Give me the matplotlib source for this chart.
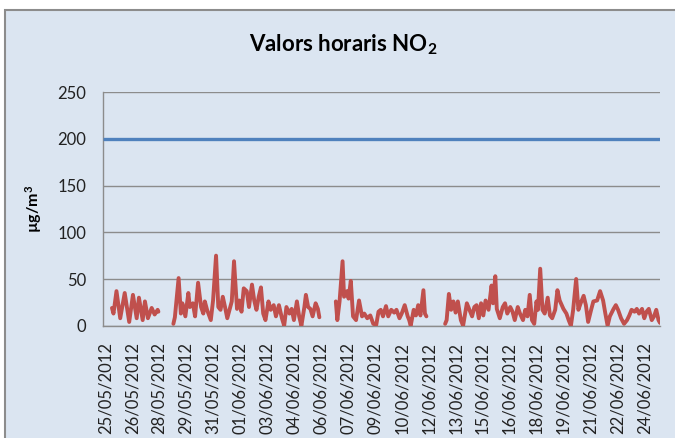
import matplotlib
matplotlib.use("Agg")
import matplotlib.pyplot as plt
from matplotlib.patches import Rectangle
import numpy as np

# hours since 25/05/2012 00:00 ; None marks gaps in the record
hours = [12, 14, 18, 23, 29, 35, 40, 45, 48, 53, 56, 60, 65, 69, 73, 74, None,
         94, 96, 101, 104, 106, 110, 114, 116, 120, 123, 127, 131, 134, 136, 139, 144,
         147, 151, 154, 157, 160, 163, 166, 172, 175, 179, 182, 185, 188, 192, 195,
         199, 202, 205, 208, 211, 214, 217, 221, 224, 228, 231, 235, 239, 242, 245,
         249, 252, 255, 259, 262, 265, 269, 271, 274, 277, 280, 284, 287, 289, None,
         311, 313, 316, 320, 322, 326, 328, 331, 334, 338, 342, 346, 349, 353, 357,
         361, 365, 368, 371, 374, 378, 381, 385, 389, 392, 396, 399, 403, 407, 409,
         411, 415, 418, 421, 424, 428, 430, 432, None,
         457, 459, 462, 465, 468, 471, 474, 478, 481, 486, 489, 493, 496, 499, 502,
         505, 508, 511, 515, 519, 521, 524, 526, 530, 534, 537, 540, 544, 547, 550,
         554, 557, 561, 564, 567, 570, 573, 576, 579, 581, 584, 587, 590, 594, 597,
         600, 604, 607, 610, 615, 619, 622, 625, 628, 632, 635, 638, 642, 645, 648,
         652, 655, 660, 664, 668, 671, 674, 677, 682, 685, 688, 692, 696, 700, 703,
         706, 710, 713, 716, 720, 723, 726, 729, 733, 736, 739, 742, 744]
no2 = [19, 13, 37, 8, 35, 4, 33, 8, 30, 6, 26, 8, 19, 12, 17, 15, None,
       2, 9, 51, 13, 24, 10, 35, 20, 24, 10, 46, 20, 13, 26, 17, 6,
       27, 75, 20, 17, 31, 20, 8, 26, 69, 18, 27, 15, 40, 37, 20,
       44, 27, 17, 31, 41, 13, 6, 26, 17, 22, 10, 22, 8, 0, 20,
       13, 18, 6, 26, 10, 0, 20, 33, 20, 18, 10, 24, 18, 9, None,
       26, 6, 26, 69, 31, 37, 29, 48, 10, 6, 27, 10, 13, 8, 11,
       2, 1, 15, 17, 10, 21, 10, 17, 14, 17, 8, 13, 22, 10, 6,
       0, 17, 11, 22, 11, 38, 13, 10, None,
       2, 6, 34, 17, 26, 14, 26, 6, 0, 24, 18, 10, 20, 22, 8,
       24, 11, 27, 17, 43, 24, 53, 18, 8, 20, 24, 13, 20, 15, 6,
       20, 13, 6, 17, 10, 33, 6, 2, 26, 17, 61, 17, 13, 30, 11,
       8, 17, 38, 27, 18, 13, 6, 0, 17, 50, 17, 24, 32, 22, 4,
       17, 26, 27, 37, 27, 13, 0, 10, 18, 22, 17, 8, 2, 6, 11,
       17, 15, 18, 13, 18, 8, 15, 18, 6, 10, 17, 6, 3]
limit_hours = [0, 744]
limit_values = [200, 200]

tick_hours = list(range(0, 744, 36))
tick_labels = ["25/05/2012", "26/05/2012", "28/05/2012", "29/05/2012", "31/05/2012",
               "01/06/2012", "03/06/2012", "04/06/2012", "06/06/2012", "07/06/2012",
               "09/06/2012", "10/06/2012", "12/06/2012", "13/06/2012", "15/06/2012",
               "16/06/2012", "18/06/2012", "19/06/2012", "21/06/2012", "22/06/2012",
               "24/06/2012"]
y_ticks = [0, 50, 100, 150, 200, 250]

plt.rcParams['font.family'] = ['Lato', 'DejaVu Sans']
plt.rcParams['mathtext.fontset'] = 'custom'
plt.rcParams['mathtext.rm'] = 'Lato'
plt.rcParams['mathtext.it'] = 'Lato:italic'
plt.rcParams['mathtext.bf'] = 'Lato:bold'

W, H = 675, 438
fig = plt.figure(figsize=(W / 100, H / 100), dpi=100, facecolor="white")
bg = "#dbe5f1"
fig.patches.append(Rectangle((5 / W, -0.1), 1.2, 1.1 - 10 / H, transform=fig.transFigure,
                             facecolor=bg, edgecolor="#8c8c8c", linewidth=1.5, zorder=-10))

ax = fig.add_axes([103 / W, 1 - 325.7 / H, (660 - 103) / W, (325.7 - 92.2) / H])
ax.set_facecolor("none")

x = np.array([np.nan if h is None else h for h in hours], dtype=float)
y = np.array([np.nan if v is None else v for v in no2], dtype=float)
ax.plot(limit_hours, limit_values, color="#4f81bd", linewidth=2.4, solid_capstyle="butt", zorder=3)
ax.plot(x, y, color="#c0504d", linewidth=2.8, solid_joinstyle="round",
        solid_capstyle="round", zorder=4)

ax.set_xlim(0, 744)
ax.set_ylim(0, 250)
ax.set_yticks(y_ticks)
ax.set_yticklabels([str(v) for v in y_ticks], fontsize=12, color="#222222")
ax.set_xticks([t + 3 for t in tick_hours[:len(tick_labels)]])
ax.set_xticklabels(tick_labels[:len(tick_hours)], rotation=90, fontsize=12, color="#222222")
ax.tick_params(axis="both", length=0)
ax.tick_params(axis="y", pad=12)
ax.tick_params(axis="x", pad=12)
ax.grid(axis="y", color="#8c8c8c", linewidth=1.0)
ax.set_axisbelow(True)
for s in ["top", "right"]:
    ax.spines[s].set_visible(False)
for s in ["left", "bottom"]:
    ax.spines[s].set_color("#8c8c8c")
    ax.spines[s].set_linewidth(1.0)

ax.set_ylabel(r"µg/m$\mathbf{^3}$", fontsize=11.5, fontweight="bold", labelpad=10)
fig.text(0.5 * (247 + 440) / W, 1 - 45 / H, r"Valors horaris NO$\mathbf{_2}$", fontsize=16,
         fontweight="bold", ha="center", va="center")

fig.savefig("out.png", dpi=100, facecolor="white")
